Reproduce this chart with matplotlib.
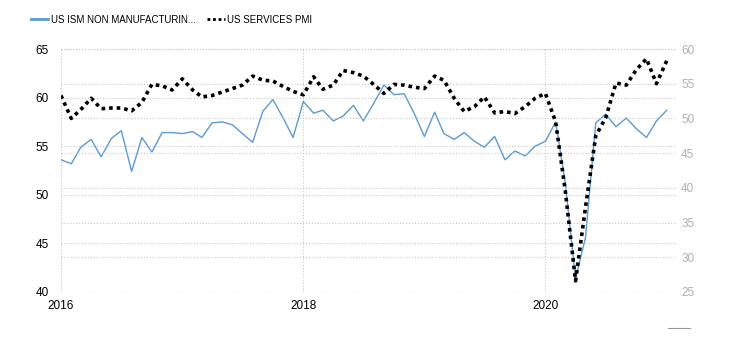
import numpy as np
import matplotlib
matplotlib.use('Agg')
import matplotlib.pyplot as plt
from matplotlib.lines import Line2D

plt.rcParams['font.family'] = ['Liberation Sans', 'DejaVu Sans']

# mois de janv. 2016 a janv. 2021
mois = np.arange('2016-01', '2021-02', dtype='datetime64[M]').astype('datetime64[D]')

# ISM non manufacturier (axe gauche)
ism = [53.6, 53.2, 54.9, 55.7, 53.9, 55.8, 56.6, 52.4, 55.9, 54.4, 56.4, 56.4,
       56.3, 56.5, 55.9, 57.4, 57.5, 57.2, 56.3, 55.4, 58.6, 59.8, 57.9, 55.9,
       59.6, 58.4, 58.7, 57.6, 58.1, 59.2, 57.6, 59.4, 61.3, 60.3, 60.4, 58.4,
       56.0, 58.5, 56.3, 55.7, 56.4, 55.5, 54.9, 56.0, 53.6, 54.5, 54.0, 55.0,
       55.5, 57.5, 51.2, 41.4, 45.6, 57.4, 58.3, 57.0, 57.9, 56.8, 55.9, 57.6, 58.7]

# PMI services (axe droit)
pmi = [53.3, 50.0, 51.3, 52.9, 51.4, 51.5, 51.5, 51.1, 52.3, 54.9, 54.7, 54.1,
       55.7, 54.1, 53.1, 53.3, 53.8, 54.3, 54.8, 56.1, 55.5, 55.4, 54.6, 53.9,
       53.4, 56.0, 54.2, 54.8, 56.9, 56.6, 56.1, 54.9, 53.6, 54.9, 54.8, 54.5,
       54.3, 56.1, 55.5, 52.9, 51.0, 51.7, 53.1, 50.8, 51.0, 50.7, 51.7, 52.9,
       53.6, 49.5, 39.6, 26.6, 37.2, 47.5, 50.1, 55.1, 54.8, 57.0, 58.6, 55.0, 58.3]

annees = ['2016', '2018', '2020']
ticks_x = np.array(['2016-01-01', '2018-01-01', '2020-01-01'], dtype='datetime64[D]')
ticks_gauche = [40, 45, 50, 55, 60, 65]
ticks_droite = [25, 30, 35, 40, 45, 50, 55, 60]

fig = plt.figure(figsize=(7.3, 3.4), dpi=100)
ax = fig.add_axes([61 / 730, 1 - 292 / 340, (677 - 61) / 730, (292 - 49) / 340])
ax2 = ax.twinx()

grille = dict(color='#c8c8c8', linestyle=':', linewidth=0.8)

ax.plot(mois, ism, color='#5b9bd5', linewidth=1.0, label='US ISM NON MANUFACTURIN...')
ax2.plot(mois, pmi, color='black', linewidth=2.6, linestyle=(0, (1, 1.1)),
         label='US SERVICES PMI')

ax.set_xlim(np.datetime64('2016-01-01'), np.datetime64('2021-02-01'))
ax.set_ylim(40, 65)
ax2.set_ylim(25, 60)

ax.set_xticks(ticks_x)
ax.set_xticklabels(annees)
ax.set_yticks(ticks_gauche)
ax2.set_yticks(ticks_droite)

ax.grid(True, axis='both', **grille)
ax2.grid(True, axis='y', **grille)

ax.tick_params(axis='both', length=0, labelsize=8.5, colors='black')
ax.tick_params(axis='y', pad=9)
ax.tick_params(axis='x', pad=6)
ax2.tick_params(axis='y', length=0, labelsize=8.5, colors='#b0b0b0', pad=3)

for a in (ax, ax2):
    for s in a.spines.values():
        s.set_visible(False)

# legende en haut
lignes = [Line2D([], [], color='#5b9bd5', linewidth=2.0),
          Line2D([], [], color='black', linewidth=2.0, linestyle=(0, (1, 1)))]
fig.legend(lignes, ['US ISM NON MANUFACTURIN...', 'US SERVICES PMI'],
           loc='upper left', bbox_to_anchor=(22 / 730, 1 - 6 / 340), ncol=2,
           frameon=False, fontsize=7, handlelength=1.8, handletextpad=0.25,
           columnspacing=1.2)

# petit trait gris en bas a droite
fig.add_artist(Line2D([668 / 730, 690 / 730], [1 - 328 / 340, 1 - 328 / 340],
                      color='#999999', linewidth=0.8))

fig.savefig('out.png', dpi=100)
